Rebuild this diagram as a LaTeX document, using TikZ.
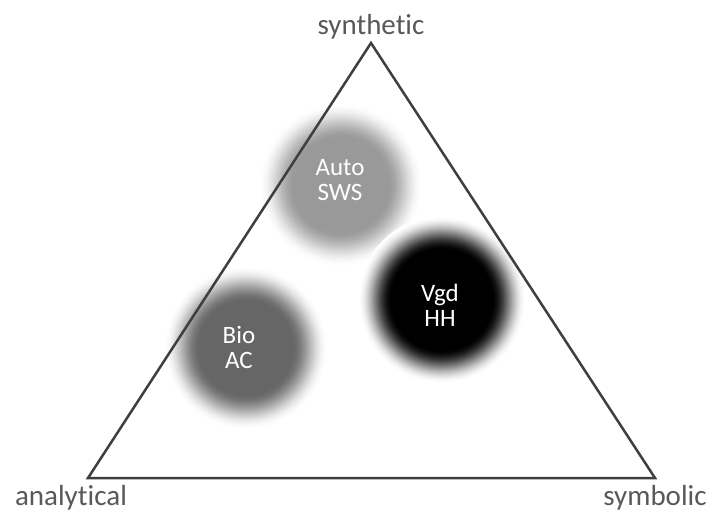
\documentclass[tikz,border=0pt]{standalone}
\usepackage{fontspec}
\setmainfont{Carlito}[Ligatures={NoCommon,NoRequired,NoContextual}]
\definecolor{edgegray}{HTML}{3F3F3F}
\definecolor{labelgray}{HTML}{595959}
\definecolor{blobA}{gray}{0.60}
\definecolor{blobB}{gray}{0.40}
\definecolor{blobC}{gray}{0.0}
% soft-edged disk: stacked rings fading from the core colour out to white
\newcommand\softdisk[4]{% centre, colour, core radius, outer radius
  \foreach \i in {0,...,48}{%
    \pgfmathsetmacro\rr{#4-(#4-#3)*\i/48}%
    \pgfmathsetmacro\tt{\i/48}%
    \pgfmathsetmacro\pp{100*\tt*\tt*(3-2*\tt)}%
    \fill[#2!\pp!white] #1 circle (\rr);
  }%
}
\tikzset{
  corner/.style={font=\fontsize{29}{31}\selectfont, text=labelgray, inner sep=0pt},
  blobtext/.style={font=\fontsize{25}{25}\selectfont, text=white, align=center, inner sep=0pt},
  edge/.style={draw=edgegray, line width=2.5pt, line join=miter}
}
\begin{document}
\begin{tikzpicture}[x=1pt,y=-1pt]
\useasboundingbox (0,0) rectangle (710,513);
\fill[white] (0,0) rectangle (710,513);
% blurred disks
\softdisk{(341,185)}{blobA}{46}{82}
\softdisk{(246,348)}{blobB}{46}{82}
\softdisk{(442,300)}{blobC}{50}{84}
% triangle
\coordinate (top) at (371,43);
\coordinate (left) at (88,478);
\coordinate (right) at (655,478);
\draw[edge] (top) -- (left) -- (right) -- cycle;
% disk labels
\node[blobtext] (auto) at (340,180) {Auto\\SWS};
\node[blobtext] (vgd) at (440,305) {Vgd\\HH};
\node[blobtext] (bio) at (239,347) {Bio\\AC};
% corner labels
\node[corner, anchor=base] (syn) at (371,35) {synthetic};
\node[corner, anchor=base] (ana) at (71,505) {analytical};
\node[corner, anchor=base] (sym) at (655,505) {symbolic};
\end{tikzpicture}
\end{document}
